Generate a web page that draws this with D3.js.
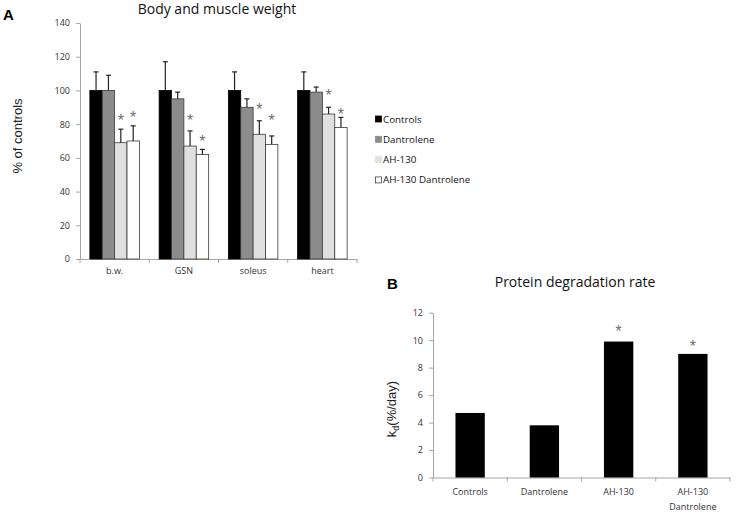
<!DOCTYPE html>
<html lang="en">
  <head>
    <meta charset="UTF-8" />
    <title>Body and muscle weight / Protein degradation rate</title>
    <script src="https://cdn.jsdelivr.net/npm/d3@7"></script>
    <style>
      body { margin: 0; background: #fff; }
      svg { display: block; }
      .tick text { fill: #333; }
    </style>
  </head>
  <body>
    <div id="container"></div>
    <script>
      // panel A data
      const tissues = ['b.w.', 'GSN', 'soleus', 'heart']
      const groups = ['Controls', 'Dantrolene', 'AH-130', 'AH-130 Dantrolene']
      const weightMeans = [
        [100, 100, 69, 70],
        [100, 95, 67, 62],
        [100, 90, 74, 68],
        [100, 99, 86, 78]
      ]
      const weightErrTop = [
        [111, 109, 77, 79],
        [117, 99, 76, 65],
        [111, 95, 82, 73],
        [111, 102, 90, 84]
      ]
      // where the asterisks sit (value units), null = no star
      const weightStars = [
        [null, null, 84, 86],
        [null, null, 84, 72],
        [null, null, 91, 84],
        [null, null, 99, 88]
      ]
      const weightTicks = [0, 20, 40, 60, 80, 100, 120, 140]

      // panel B data
      const kdGroups = ['Controls', 'Dantrolene', 'AH-130', 'AH-130 Dantrolene']
      const kdValues = [4.7, 3.8, 9.9, 9.0]
      const kdStars = [null, null, 10.9, 9.8]
      const kdTicks = [0, 2, 4, 6, 8, 10, 12]

      const width = 739
      const height = 518
      const fills = ['#000000', '#8c8c8c', '#e0e0e0', '#ffffff']
      const font = "'Open Sans', sans-serif"
      const arial = 'Liberation Sans, Arial, sans-serif'

      const svg = d3.create('svg')
        .attr('width', width)
        .attr('height', height)
        .attr('viewBox', [0, 0, width, height])

      // ---------- panel A ----------
      const xA = d3.scaleBand().domain(tissues).range([80, 357])
        .paddingInner(0.285).paddingOuter(0.1425)
      const xInner = d3.scaleBand().domain(groups).range([0, xA.bandwidth()])
      const yA = d3.scaleLinear().domain([0, 140]).range([259, 23])

      svg.append('text').attr('x', 3).attr('y', 20)
        .attr('font-family', arial)
        .attr('font-weight', 'bold').attr('font-size', 15).text('A')
      svg.append('text').attr('x', 217).attr('y', 14)
        .attr('text-anchor', 'middle').attr('font-family', font)
        .attr('font-size', 14).attr('fill', '#111').text('Body and muscle weight')

      const axA = svg.append('g').attr('transform', 'translate(80,0)')
        .call(d3.axisLeft(yA).tickValues(weightTicks).tickSize(4).tickPadding(6).tickSizeOuter(0))
      const axAx = svg.append('g').attr('transform', 'translate(0,259)')
        .call(d3.axisBottom(xA).tickSize(0).tickPadding(9))
      // category boundary ticks pointing down
      axAx.selectAll('line.sep')
        .data(d3.range(tissues.length + 1))
        .join('line').attr('class', 'sep')
        .attr('x1', i => 80 + i * xA.step()).attr('x2', i => 80 + i * xA.step())
        .attr('y1', 0).attr('y2', 4)
      for (const ax of [axA, axAx]) {
        ax.selectAll('path, line').attr('stroke', '#a6a6a6')
        ax.selectAll('text').attr('font-family', font).attr('font-size', 9)
      }

      svg.append('text')
        .attr('transform', 'translate(22,136) rotate(-90)')
        .attr('text-anchor', 'middle')
        .attr('font-family', arial)
        .attr('font-size', 13).attr('fill', '#222')
        .text('% of controls')

      const cells = []
      tissues.forEach((t, i) => groups.forEach((g, j) => {
        cells.push({ t, g, j, v: weightMeans[i][j], e: weightErrTop[i][j], s: weightStars[i][j] })
      }))
      const gA = svg.append('g')
      gA.selectAll('rect')
        .data(cells).join('rect')
        .attr('x', d => xA(d.t) + xInner(d.g))
        .attr('width', xInner.bandwidth())
        .attr('y', d => yA(d.v))
        .attr('height', d => yA(0) - yA(d.v))
        .attr('fill', d => fills[d.j])
        .attr('stroke', d => d.j === 0 ? '#000' : '#3a3a3a')
        .attr('stroke-width', 0.8)
      const cx = d => xA(d.t) + xInner(d.g) + xInner.bandwidth() / 2
      gA.selectAll('line.err').data(cells).join('line').attr('class', 'err')
        .attr('x1', cx).attr('x2', cx)
        .attr('y1', d => yA(d.v)).attr('y2', d => yA(d.e))
        .attr('stroke', '#222').attr('stroke-width', 1.2)
      gA.selectAll('line.cap').data(cells).join('line').attr('class', 'cap')
        .attr('x1', d => cx(d) - 2.5).attr('x2', d => cx(d) + 2.5)
        .attr('y1', d => yA(d.e)).attr('y2', d => yA(d.e))
        .attr('stroke', '#222').attr('stroke-width', 1.2)
      gA.selectAll('text.star').data(cells.filter(d => d.s !== null)).join('text')
        .attr('class', 'star')
        .attr('x', cx).attr('y', d => yA(d.s) + 9)
        .attr('text-anchor', 'middle').attr('font-family', arial)
        .attr('font-size', 16).attr('fill', '#6e6e6e').text('*')

      // legend
      const leg = svg.append('g').attr('transform', 'translate(375,119)')
      const li = leg.selectAll('g').data(groups).join('g')
        .attr('transform', (d, i) => `translate(0,${i * 20.3})`)
      li.append('rect').attr('x', 0.5).attr('y', -3).attr('width', 6).attr('height', 6)
        .attr('fill', (d, i) => fills[i])
        .attr('stroke', (d, i) => i === 0 ? '#000' : i === 3 ? '#444' : fills[i])
        .attr('stroke-width', 0.8)
      li.append('text').attr('x', 8).attr('y', 3.5)
        .attr('font-family', font).attr('font-size', 9.8).attr('fill', '#111')
        .text(d => d)

      // ---------- panel B ----------
      const xB = d3.scaleBand().domain(kdGroups).range([433, 730])
        .paddingInner(0.605).paddingOuter(0.3025)
      const yB = d3.scaleLinear().domain([0, 12]).range([477.5, 312.7])

      svg.append('text').attr('x', 387).attr('y', 289)
        .attr('font-family', arial)
        .attr('font-weight', 'bold').attr('font-size', 15).text('B')
      svg.append('text').attr('x', 575).attr('y', 287)
        .attr('text-anchor', 'middle').attr('font-family', font)
        .attr('font-size', 14).attr('fill', '#111').text('Protein degradation rate')

      const axB = svg.append('g').attr('transform', 'translate(433,0)')
        .call(d3.axisLeft(yB).tickValues(kdTicks).tickSize(4).tickPadding(6).tickSizeOuter(0))
      const axBx = svg.append('g').attr('transform', 'translate(0,477.5)')
        .call(d3.axisBottom(xB).tickSize(0).tickPadding(11))
      axBx.selectAll('line.sep')
        .data(d3.range(kdGroups.length + 1))
        .join('line').attr('class', 'sep')
        .attr('x1', i => 433 + i * xB.step()).attr('x2', i => 433 + i * xB.step())
        .attr('y1', 0).attr('y2', 4)
      for (const ax of [axB, axBx]) {
        ax.selectAll('path, line').attr('stroke', '#a6a6a6')
        ax.selectAll('text').attr('font-family', font).attr('font-size', 9)
      }
      // two-line label for the last group
      axBx.selectAll('.tick text').each(function (d) {
        if (d === 'AH-130 Dantrolene') {
          const t = d3.select(this).text(null)
          t.append('tspan').attr('x', 0).text('AH-130')
          t.append('tspan').attr('x', 0).attr('dy', '1.65em').text('Dantrolene')
        }
      })

      const yl = svg.append('text')
        .attr('transform', 'translate(396,409) rotate(-90)')
        .attr('text-anchor', 'middle')
        .attr('font-family', arial)
        .attr('font-size', 13).attr('fill', '#222')
      yl.append('tspan').text('k')
      yl.append('tspan').attr('font-size', 9).attr('dy', 3).text('d')
      yl.append('tspan').attr('dy', -3).text('(%/day)')

      const kd = kdGroups.map((g, i) => ({ g, v: kdValues[i], s: kdStars[i] }))
      svg.append('g').selectAll('rect').data(kd).join('rect')
        .attr('x', d => xB(d.g)).attr('width', xB.bandwidth())
        .attr('y', d => yB(d.v)).attr('height', d => yB(0) - yB(d.v))
        .attr('fill', '#000')
      svg.append('g').selectAll('text').data(kd.filter(d => d.s !== null)).join('text')
        .attr('x', d => xB(d.g) + xB.bandwidth() / 2).attr('y', d => yB(d.s) + 9)
        .attr('text-anchor', 'middle').attr('font-family', arial)
        .attr('font-size', 16).attr('fill', '#6e6e6e').text('*')

      document.getElementById('container').append(svg.node())
    </script>
  </body>
</html>
